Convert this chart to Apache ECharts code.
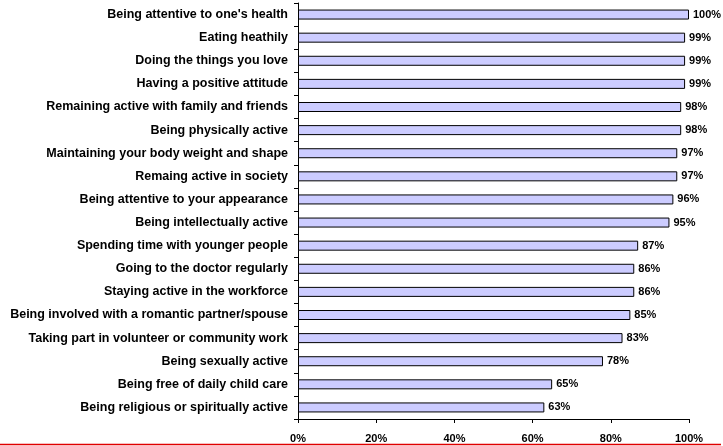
<!DOCTYPE html>
<html>
<head>
<meta charset="utf-8">
<script src="https://cdn.jsdelivr.net/npm/echarts@6/dist/echarts.min.js"></script>
<style>
  html, body { margin: 0; padding: 0; background: #fff; }
  #chart { width: 723px; height: 446px; }
</style>
</head>
<body>
<div id="chart"></div>
<script>
// Factors listed from top to bottom
const categories = [
  "Being attentive to one's health",
  "Eating heathily",
  "Doing the things you love",
  "Having a positive attitude",
  "Remaining active with family and friends",
  "Being physically active",
  "Maintaining your body weight and shape",
  "Remaing active in society",
  "Being attentive to your appearance",
  "Being intellectually active",
  "Spending time with younger people",
  "Going to the doctor regularly",
  "Staying active in the workforce",
  "Being involved with a romantic partner/spouse",
  "Taking part in volunteer or community work",
  "Being sexually active",
  "Being free of daily child care",
  "Being religious or spiritually active"
];

// Share of respondents (%)
const values = [100, 99, 99, 99, 98, 98, 97, 97, 96, 95, 87, 86, 86, 85, 83, 78, 65, 63];

// Axis ticks (%)
const xTicks = [0, 20, 40, 60, 80, 100];

const chart = echarts.init(document.getElementById('chart'), null, { renderer: 'canvas' });

const fontFamily = '"Liberation Sans", Arial, sans-serif';

chart.setOption({
  animation: false,
  backgroundColor: '#ffffff',
  grid: { left: 298, right: 34, top: 3, bottom: 27, containLabel: false },
  xAxis: {
    type: 'value',
    min: xTicks[0],
    max: xTicks[xTicks.length - 1],
    interval: xTicks[1] - xTicks[0],
    axisLine: { show: true, lineStyle: { color: '#000', width: 1 } },
    axisTick: { show: true, length: 4, lineStyle: { color: '#000' } },
    splitLine: { show: false },
    axisLabel: {
      margin: 14,
      color: '#000',
      fontFamily: fontFamily,
      fontWeight: 'bold',
      fontSize: 11,
      formatter: v => v + '%'
    }
  },
  yAxis: {
    type: 'category',
    data: categories,
    inverse: true,
    axisLine: { show: true, lineStyle: { color: '#000', width: 1 } },
    axisTick: { show: true, length: 4, lineStyle: { color: '#000' } },
    axisLabel: {
      margin: 10,
      color: '#000',
      fontFamily: fontFamily,
      fontWeight: 'bold',
      fontSize: 12.5
    }
  },
  series: [{
    type: 'bar',
    data: values,
    barWidth: 10,
    itemStyle: { color: '#ccccff', borderColor: '#000', borderWidth: 1 },
    label: {
      show: true,
      position: 'right',
      distance: 4,
      color: '#000',
      fontFamily: fontFamily,
      fontWeight: 'bold',
      fontSize: 11,
      formatter: p => p.value + '%'
    }
  }],
  graphic: [{
    type: 'line',
    shape: { x1: 0, y1: 444.5, x2: 721, y2: 444.5 },
    style: { stroke: '#e00000', lineWidth: 1.5 },
    silent: true
  }]
});
</script>
</body>
</html>
